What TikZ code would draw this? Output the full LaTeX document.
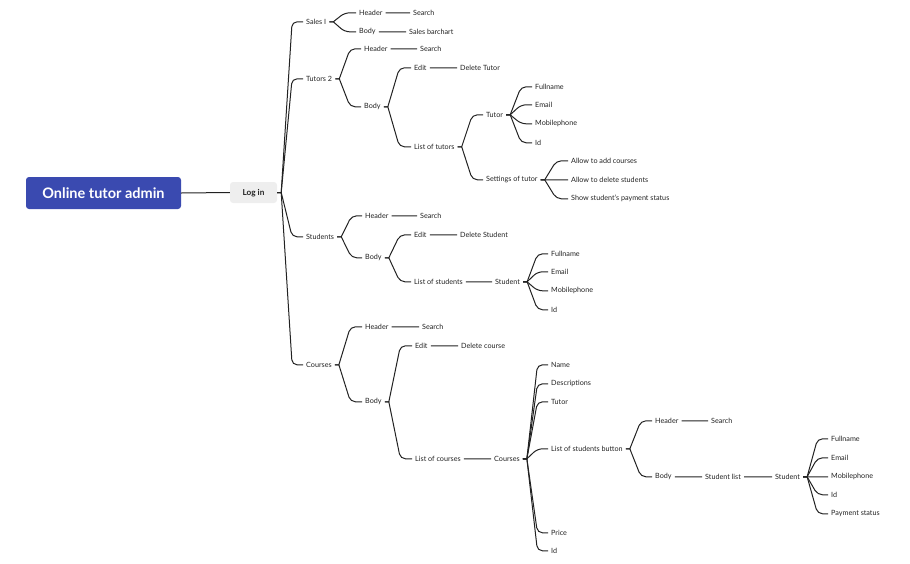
\documentclass[tikz,border=0pt]{standalone}
\usepackage{fontspec}
\setmainfont{Lato}
\usetikzlibrary{calc}

\definecolor{rootblue}{RGB}{58,74,176}
\definecolor{loginfill}{RGB}{238,238,238}
\definecolor{ink}{RGB}{34,34,34}

\tikzset{
  topic/.style={anchor=west, inner xsep=3pt, inner ysep=1pt, text=ink, yshift=-0.8pt,
    font=\fontsize{7.2}{8.5}\selectfont},
  rootbox/.style={fill=rootblue, rounded corners=3pt, text=white,
    minimum width=155pt, minimum height=32pt, font=\fontsize{14.5}{16}\selectfont\bfseries},
  loginbox/.style={fill=loginfill, rounded corners=3pt, text=ink,
    minimum width=47pt, minimum height=21pt, text height=6pt, text depth=0.5pt,
    font=\fontsize{8.2}{10}\selectfont\bfseries},
  link/.style={draw=ink, line width=1pt},
}

% curved branch from a parent topic to a child topic
\newcommand\branch[2]{%
  \draw[link] (#1.east) -- ++(4,0) [rounded corners=5pt]
    -- ($(#1.east |- #2.west)!0.5!(#2.west)+(2,0)$) -- (#2.west);}

\begin{document}
\begin{tikzpicture}[x=1pt, y=-1pt]
  \useasboundingbox (0,0) rectangle (910,563);

  \node[rootbox] (root) at (103.5,193) {Online tutor admin};
  \node[loginbox] (login) at (253.5,192.5) {Log in};
  \draw[link] (root.east) -- (login.west);

  % Sales I
  \node[topic] (sales) at (303,21) {Sales I};
  \node[topic] (salesHead) at (356,12) {Header};
  \node[topic] (salesSearch) at (410,12) {Search};
  \node[topic] (salesBody) at (356,31) {Body};
  \node[topic] (salesChart) at (406,31) {Sales barchart};

  % Tutors 2
  \node[topic] (tut) at (303,78) {Tutors 2};
  \node[topic] (tutHead) at (361,48) {Header};
  \node[topic] (tutSearch) at (417,48) {Search};
  \node[topic] (tutBody) at (361,106) {Body};
  \node[topic] (tutEdit) at (411,67) {Edit};
  \node[topic] (tutDel) at (457,67) {Delete Tutor};
  \node[topic] (tutList) at (411,146) {List of tutors};
  \node[topic] (tutTutor) at (483,114) {Tutor};
  \node[topic] (tutFull) at (532,86) {Fullname};
  \node[topic] (tutEmail) at (532,104) {Email};
  \node[topic] (tutMobile) at (532,123) {Mobilephone};
  \node[topic] (tutId) at (532,142) {Id};
  \node[topic] (tutSet) at (483,179) {Settings of tutor};
  \node[topic] (tutAdd) at (568,160) {Allow to add courses};
  \node[topic] (tutDelStu) at (568,179) {Allow to delete students};
  \node[topic] (tutShow) at (568,198) {Show student's payment status};

  % Students
  \node[topic] (stu) at (303,236) {Students};
  \node[topic] (stuHead) at (362,215) {Header};
  \node[topic] (stuSearch) at (417,215) {Search};
  \node[topic] (stuBody) at (362,257) {Body};
  \node[topic] (stuEdit) at (411,234) {Edit};
  \node[topic] (stuDel) at (457,234) {Delete Student};
  \node[topic] (stuList) at (411,281) {List of students};
  \node[topic] (stuStudent) at (492,281) {Student};
  \node[topic] (stuFull) at (548,253) {Fullname};
  \node[topic] (stuEmail) at (548,271) {Email};
  \node[topic] (stuMobile) at (548,290) {Mobilephone};
  \node[topic] (stuId) at (548,309) {Id};

  % Courses
  \node[topic] (crs) at (303,364) {Courses};
  \node[topic] (crsHead) at (362,326) {Header};
  \node[topic] (crsSearch) at (419,326) {Search};
  \node[topic] (crsBody) at (362,401) {Body};
  \node[topic] (crsEdit) at (412,345) {Edit};
  \node[topic] (crsDel) at (458,345) {Delete course};
  \node[topic] (crsList) at (412,458) {List of courses};
  \node[topic] (crsCourses) at (491,458) {Courses};
  \node[topic] (crsName) at (548,364) {Name};
  \node[topic] (crsDesc) at (548,383) {Descriptions};
  \node[topic] (crsTutor) at (548,401) {Tutor};
  \node[topic] (crsBtn) at (548,448) {List of students button};
  \node[topic] (btnHead) at (652,420) {Header};
  \node[topic] (btnSearch) at (708,420) {Search};
  \node[topic] (btnBody) at (652,476) {Body};
  \node[topic] (btnList) at (702,476) {Student list};
  \node[topic] (btnStudent) at (772,476) {Student};
  \node[topic] (btnFull) at (828,438) {Fullname};
  \node[topic] (btnEmail) at (828,457) {Email};
  \node[topic] (btnMobile) at (828,476) {Mobilephone};
  \node[topic] (btnId) at (828,494) {Id};
  \node[topic] (btnPay) at (828,513) {Payment status};
  \node[topic] (crsPrice) at (548,532) {Price};
  \node[topic] (crsId) at (548,550) {Id};

  \foreach \from/\to in {login/sales, login/tut, login/stu, login/crs,
      sales/salesHead, salesHead/salesSearch, sales/salesBody, salesBody/salesChart,
      tut/tutHead, tutHead/tutSearch, tut/tutBody, tutBody/tutEdit, tutEdit/tutDel,
      tutBody/tutList, tutList/tutTutor, tutTutor/tutFull, tutTutor/tutEmail,
      tutTutor/tutMobile, tutTutor/tutId, tutList/tutSet, tutSet/tutAdd,
      tutSet/tutDelStu, tutSet/tutShow,
      stu/stuHead, stuHead/stuSearch, stu/stuBody, stuBody/stuEdit, stuEdit/stuDel,
      stuBody/stuList, stuList/stuStudent, stuStudent/stuFull, stuStudent/stuEmail,
      stuStudent/stuMobile, stuStudent/stuId,
      crs/crsHead, crsHead/crsSearch, crs/crsBody, crsBody/crsEdit, crsEdit/crsDel,
      crsBody/crsList, crsList/crsCourses, crsCourses/crsName, crsCourses/crsDesc,
      crsCourses/crsTutor, crsCourses/crsBtn, crsBtn/btnHead, btnHead/btnSearch,
      crsBtn/btnBody, btnBody/btnList, btnList/btnStudent, btnStudent/btnFull,
      btnStudent/btnEmail, btnStudent/btnMobile, btnStudent/btnId, btnStudent/btnPay,
      crsCourses/crsPrice, crsCourses/crsId}
    \branch{\from}{\to};
\end{tikzpicture}
\end{document}
